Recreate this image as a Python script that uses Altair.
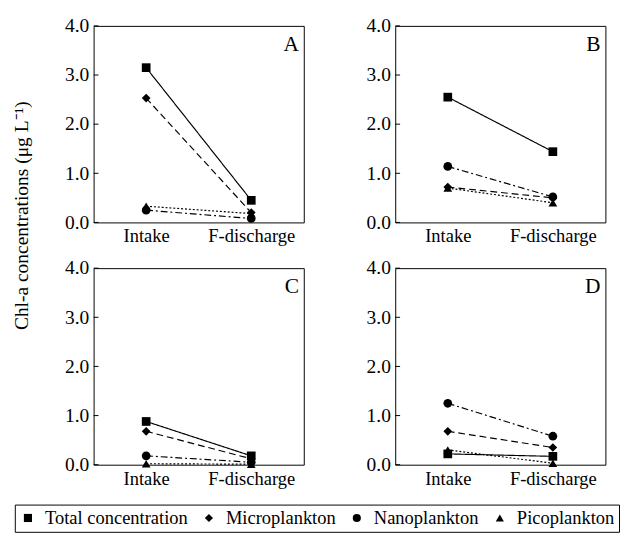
import altair as alt
import pandas as pd

SERIF = "Liberation Serif"

panels = ["A", "B", "C", "D"]
stations = ["Intake", "F-discharge"]
fractions = ["Total concentration", "Microplankton", "Nanoplankton", "Picoplankton"]

total_intake = [3.15, 2.55, 0.88, 0.22]
total_discharge = [0.45, 1.44, 0.18, 0.17]
micro_intake = [2.53, 0.72, 0.68, 0.68]
micro_discharge = [0.20, 0.50, 0.12, 0.35]
nano_intake = [0.25, 1.14, 0.18, 1.25]
nano_discharge = [0.08, 0.52, 0.05, 0.58]
pico_intake = [0.33, 0.70, 0.02, 0.30]
pico_discharge = [0.18, 0.40, 0.01, 0.03]

tick_values = [0, 1, 2, 3, 4]

series = {
    "Total concentration": (total_intake, total_discharge),
    "Microplankton": (micro_intake, micro_discharge),
    "Nanoplankton": (nano_intake, nano_discharge),
    "Picoplankton": (pico_intake, pico_discharge),
}
dashes = {
    "Total concentration": [1, 0],
    "Microplankton": [7, 4],
    "Nanoplankton": [7, 3, 2, 3],
    "Picoplankton": [2, 2],
}

rows = []
for i, p in enumerate(panels):
    for f in fractions:
        vin, vout = series[f]
        rows.append({"panel": p, "fraction": f, "station": stations[0], "value": vin[i]})
        rows.append({"panel": p, "fraction": f, "station": stations[1], "value": vout[i]})
df = pd.DataFrame(rows)

W, H = 216, 202

shape_scale = alt.Scale(domain=fractions, range=["square", "diamond", "circle", "triangle-up"])
y_scale = alt.Scale(domain=[0, 4], nice=False)
y_axis = alt.Axis(title=None, values=tick_values, format=".1f", ticks=False,
                  domain=False, grid=False, labelFont=SERIF, labelFontSize=20,
                  labelColor="black", labelPadding=5)
legend = alt.Legend(title=None, orient="none", legendX=-81, legendY=492,
                    direction="horizontal", columns=4, labelFont=SERIF)


def panel(p):
    d = df[df.panel == p]
    base = alt.Chart(d)
    x = alt.X("station:N", sort=stations,
              scale=alt.Scale(type="point", padding=0.5),
              axis=alt.Axis(title=None, labelAngle=0, ticks=False, domain=False,
                            labelFont=SERIF, labelFontSize=19, labelColor="black",
                            labelPadding=5))
    y = alt.Y("value:Q", scale=y_scale, axis=y_axis)
    line_layers = [
        base.transform_filter(alt.datum.fraction == f)
        .mark_line(color="black", strokeWidth=1.2, strokeDash=dashes[f])
        .encode(x=x, y=y)
        for f in fractions
    ]
    pts = base.mark_point(filled=True, color="black", opacity=1).encode(
        x=x, y=y,
        shape=alt.Shape("fraction:N", scale=shape_scale, legend=legend),
    )
    ticks = alt.Chart(pd.DataFrame({"value": tick_values})).mark_rule(
        color="black", strokeWidth=1).encode(
        y=alt.Y("value:Q", scale=y_scale, axis=y_axis),
        x=alt.value(0), x2=alt.value(5),
    )
    letter = alt.Chart(pd.DataFrame({"label": [p]})).mark_text(
        font=SERIF, fontSize=22, align="right", baseline="top", color="black").encode(
        text="label:N", x=alt.value(W - 5), y=alt.value(9),
    )
    return alt.layer(*line_layers, pts, ticks, letter).properties(width=W, height=H)


chart = alt.concat(
    panel("A"), panel("B"), panel("C"), panel("D"), columns=2,
    spacing={"row": 11, "column": 62},
).resolve_scale(shape="shared").resolve_legend(shape="shared").properties(
    title=alt.TitleParams(text="Chl-a concentrations (μg L⁻¹)", orient="left",
                          anchor="middle", font=SERIF, fontSize=20, fontWeight="normal",
                          color="black", offset=-18, dx=60),
    padding={"left": 4, "top": 0, "right": 0, "bottom": 0},
).configure_view(stroke="black", strokeWidth=1).configure_point(size=80).configure_legend(
    strokeColor="black", padding=4, labelFont=SERIF, labelFontSize=19,
    labelColor="black", symbolFillColor="black", symbolStrokeColor="black",
    symbolSize=70, labelOffset=8, columnPadding=12,
)

chart.save("out.html", embed_options={"renderer": "svg", "actions": False})
